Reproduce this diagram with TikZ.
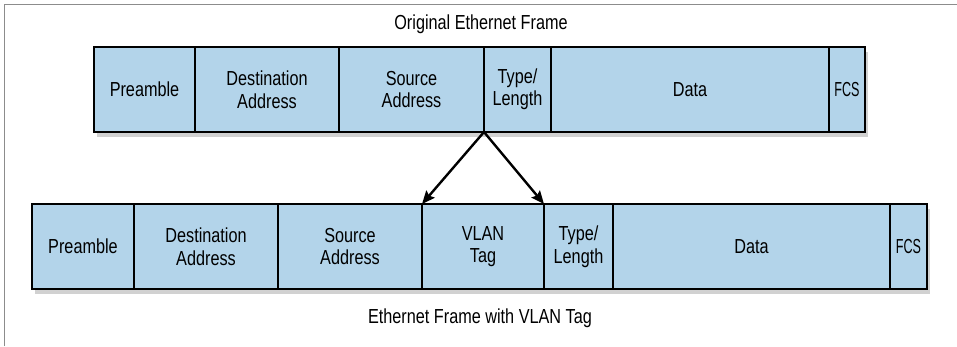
\documentclass[tikz,border=0pt]{standalone}
\usepackage{fontspec}
\setmainfont{Liberation Sans}[FakeStretch=0.8]
\newfontfamily\narrowFamily{Liberation Sans}[FakeStretch=0.62]
\usetikzlibrary{
  arrows.meta,
  positioning,
  shadows
}
\definecolor{frameBlue}{HTML}{B3D4EA}
\definecolor{frameGray}{HTML}{8C8C8C}
\newcommand\fieldFont{\fontsize{20.3}{22.5}\selectfont}
\tikzset{
  fieldBox/.style={
    draw=black,
    line width=2.6pt,
    fill=frameBlue,
    minimum height=85pt,
    inner sep=0pt,
    outer sep=0pt,
    align=center,
    font=\fieldFont,
    drop shadow={shadow xshift=3pt, shadow yshift=-5pt, opacity=.3, fill=black!60}
  },
  fcsBox/.style={fieldBox, font=\fieldFont\narrowFamily},
  frameTitle/.style={font=\fieldFont, inner sep=1pt},
  tagArrow/.style={-{Stealth[length=13pt, width=11pt, inset=2pt]}, line width=2.4pt, black}
}

\begin{document}
\begin{tikzpicture}[x=1pt,y=1pt]
  \useasboundingbox (0,0) rectangle (957,346);
  \draw[frameGray, line width=1pt] (4.5,0) -- (4.5,341.5) -- (957,341.5);

  % original frame
  \node[frameTitle] (origTitle) at (481,322) {Original Ethernet Frame};
  \node[fieldBox, minimum width=101pt, anchor=west] (pre1) at (94,256.5) {Preamble};
  \node[fieldBox, minimum width=144pt, right=0pt of pre1] (dst1) {Destination\\Address};
  \node[fieldBox, minimum width=145pt, right=0pt of dst1] (src1) {Source\\Address};
  \node[fieldBox, minimum width=67pt, right=0pt of src1] (type1) {Type/\\Length};
  \node[fieldBox, minimum width=278pt, right=0pt of type1] (data1) {Data};
  \node[fcsBox, minimum width=36pt, right=0pt of data1] (fcs1) {FCS};

  % tagged frame
  \node[fieldBox, minimum width=102pt, anchor=west] (pre2) at (32,99.5) {Preamble};
  \node[fieldBox, minimum width=144pt, right=0pt of pre2] (dst2) {Destination\\Address};
  \node[fieldBox, minimum width=144pt, right=0pt of dst2] (src2) {Source\\Address};
  \node[fieldBox, minimum width=122pt, right=0pt of src2] (vlan2) {VLAN\\Tag};
  \node[fieldBox, minimum width=69pt, right=0pt of vlan2] (type2) {Type/\\Length};
  \node[fieldBox, minimum width=277pt, right=0pt of type2] (data2) {Data};
  \node[fcsBox, minimum width=37pt, right=0pt of data2] (fcs2) {FCS};
  \node[frameTitle] (vlanTitle) at (480,28) {Ethernet Frame with VLAN Tag};

  \draw[tagArrow] (src1.south east) -- (vlan2.north west);
  \draw[tagArrow] (src1.south east) -- (vlan2.north east);
\end{tikzpicture}
\end{document}
